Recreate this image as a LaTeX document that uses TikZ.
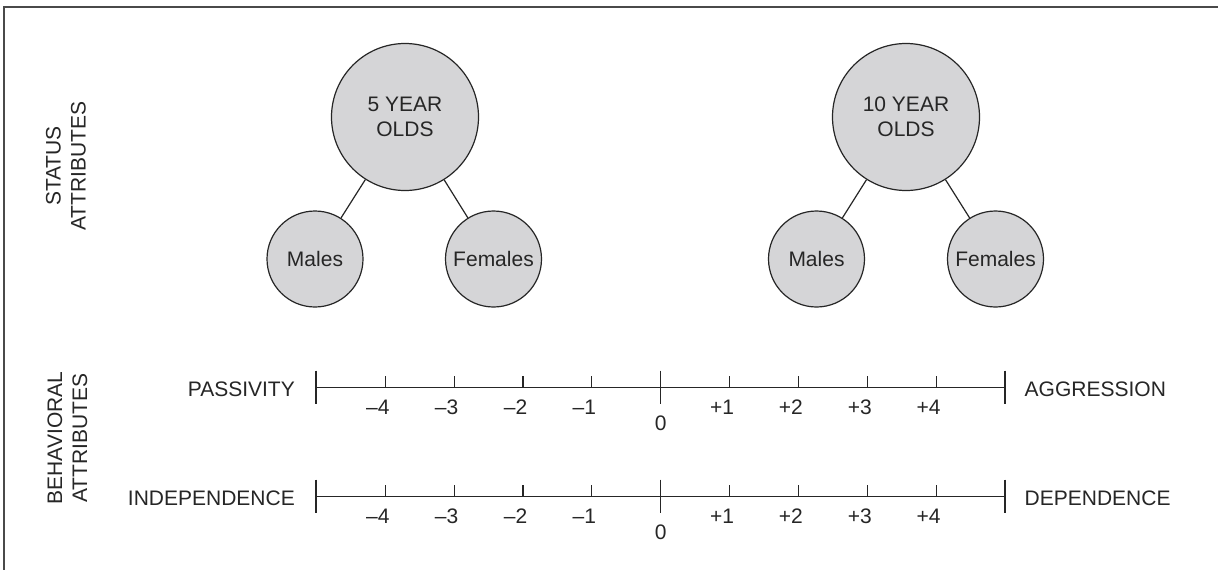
\documentclass[tikz,border=0pt]{standalone}
\usepackage{fontspec}
\setmainfont{Liberation Sans}
\definecolor{ink}{HTML}{262626}
\definecolor{bubble}{HTML}{D5D5D7}
\definecolor{frame}{HTML}{4A4A4A}
\begin{document}
\begin{tikzpicture}[x=1pt,y=-1pt,
  every node/.style={font=\fontsize{21}{25}\selectfont, text=ink},
  big/.style={circle, draw=ink, fill=bubble, line width=1.2pt, minimum size=147pt, inner sep=0pt, align=center},
  small/.style={circle, draw=ink, fill=bubble, line width=1.2pt, minimum size=96pt, inner sep=0pt},
  link/.style={draw=ink, line width=1.2pt},
  axis/.style={draw=ink, line width=1.2pt},
  sidelabel/.style={rotate=90, align=center, inner sep=0pt}]
\useasboundingbox (0,0) rectangle (1218,570);
\fill[white] (0,0) rectangle (1218,570);
% frame (top and left edges)
\coordinate (fTR) at (1218,6.7);
\coordinate (fTL) at (4,6.7);
\coordinate (fBL) at (4,570);
\draw[frame, line width=1.8pt] (fTR) -- (fTL) -- (fBL);
% side labels
\node[sidelabel] (status) at (66,166) {STATUS\\ATTRIBUTES};
\node[sidelabel] (behav) at (67.5,438) {BEHAVIORAL\\ATTRIBUTES};
% trees
\node[big] (b5) at (405,117) {5 YEAR\\OLDS};
\node[small] (m5) at (315,259) {Males};
\node[small] (f5) at (493.5,259) {Females};
\node[big] (b10) at (906,117) {10 YEAR\\OLDS};
\node[small] (m10) at (816.5,259) {Males};
\node[small] (f10) at (995.5,259) {Females};
\draw[link] (b5) -- (m5);
\draw[link] (b5) -- (f5);
\draw[link] (b10) -- (m10);
\draw[link] (b10) -- (f10);
% scales
\foreach \yy/\nm/\lt/\rt in {387.6/p/PASSIVITY/AGGRESSION, 496.6/i/INDEPENDENCE/DEPENDENCE}{
  \coordinate (\nm L) at (316,\yy);
  \coordinate (\nm R) at (1005,\yy);
  \coordinate (\nm Z) at (660.7,\yy);
  \draw[axis] (\nm L) -- (\nm R);
  \coordinate (\nm Lt) at (316,\yy-17);
  \coordinate (\nm Lb) at (316,\yy+16);
  \coordinate (\nm Rt) at (1005,\yy-17);
  \coordinate (\nm Rb) at (1005,\yy+16);
  \coordinate (\nm Zt) at (660.7,\yy-17);
  \coordinate (\nm Zb) at (660.7,\yy+16);
  \draw[axis] (\nm Lt) -- (\nm Lb);
  \draw[axis] (\nm Rt) -- (\nm Rb);
  \draw[axis] (\nm Zt) -- (\nm Zb);
  \node[anchor=base] (\nm zero) at (660.7,\yy+42.5) {0};
  \node[anchor=base east, inner sep=0pt] (\nm left) at (295,\yy+8.5) {\lt};
  \node[anchor=base west, inner sep=0pt] (\nm right) at (1024.5,\yy+8.5) {\rt};
  \foreach \k/\lab in {-4/–4,-3/–3,-2/–2,-1/–1,1/+1,2/+2,3/+3,4/+4}{
    \coordinate (\nm t\k) at (660.7+68.85*\k,\yy-11.5);
    \coordinate (\nm b\k) at (660.7+68.85*\k,\yy);
    \draw[axis] (\nm t\k) -- (\nm b\k);
    \node[anchor=base] (\nm lab\k) at (660.7+68.85*\k-7.5,\yy+26.5) {\lab};
  }
}
\end{tikzpicture}
\end{document}
